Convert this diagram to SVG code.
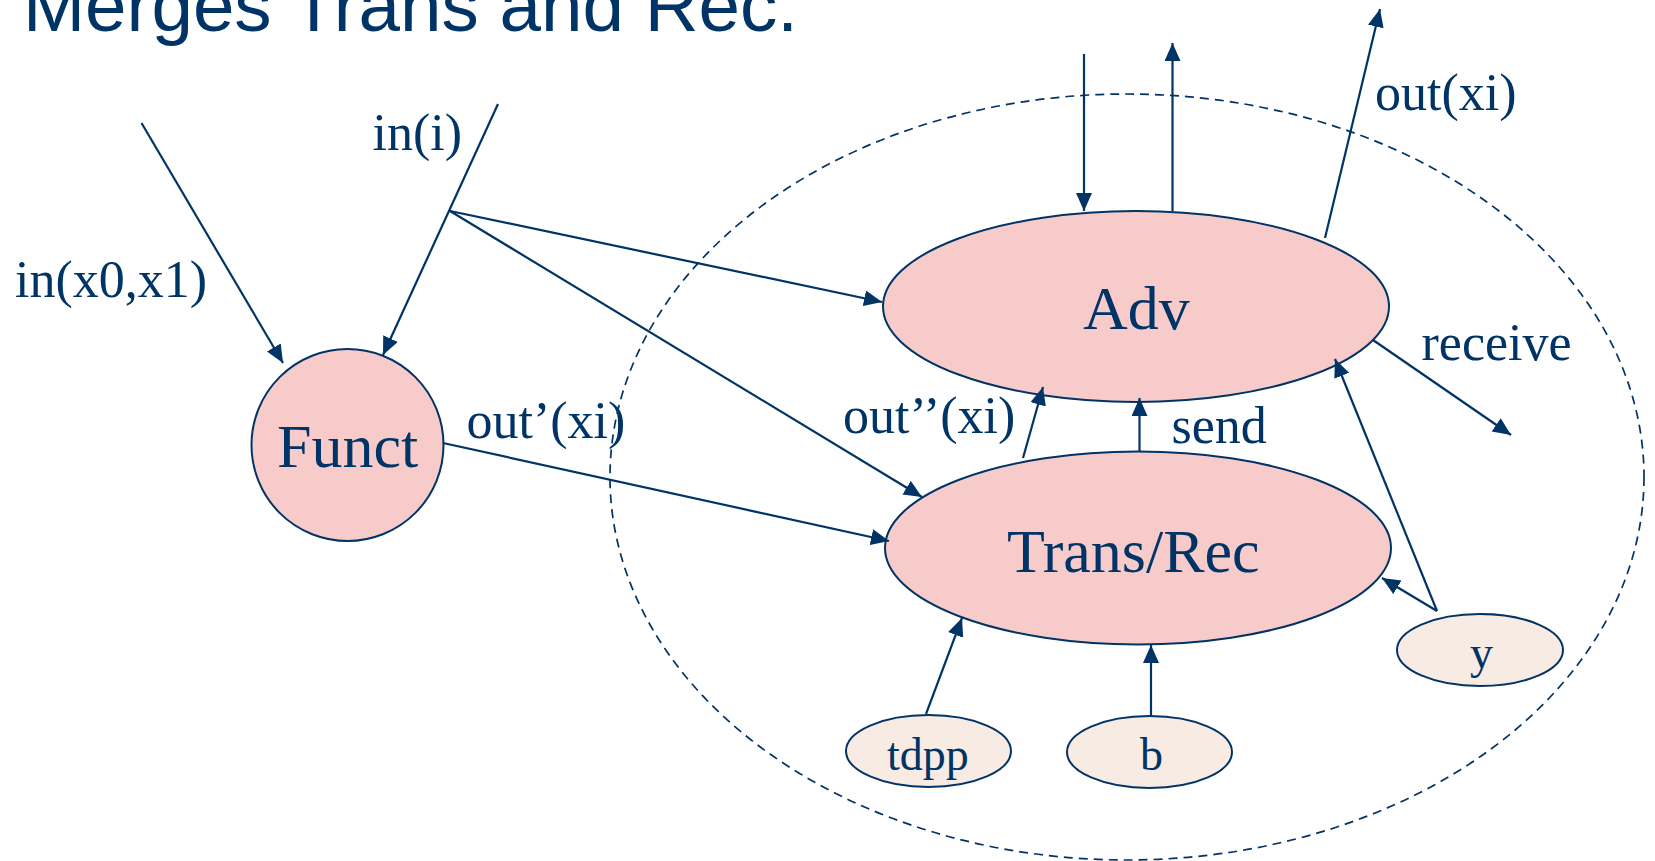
<svg xmlns="http://www.w3.org/2000/svg" width="1655" height="861" viewBox="0 0 1655 861">
<style>
.t{font-family:"Liberation Serif","Times New Roman",serif;fill:#003366}
.lbl{font-size:52px}
.big{font-size:62px}
.sm{font-size:46px}
.title{font-family:"Liberation Sans",Arial,sans-serif;font-size:74px;fill:#003366}
.node{fill:#f8cbcb;stroke:#003366;stroke-width:2}
.var{fill:#f7ebe3;stroke:#003366;stroke-width:2}
.c{stroke:#003366;stroke-width:2.2;fill:none;marker-end:url(#ah)}
.dash{fill:none;stroke:#003366;stroke-width:1.7;stroke-dasharray:9 6}
</style>
<defs>
<marker id="ah" markerUnits="userSpaceOnUse" markerWidth="19" markerHeight="17" refX="18" refY="8" orient="auto">
<path d="M0,0 L18,8 L0,16 z" fill="#003366"/>
</marker>
</defs>
<rect width="1655" height="861" fill="#ffffff"/>
<text class="title" x="23" y="31" textLength="775" lengthAdjust="spacingAndGlyphs">Merges Trans and Rec.</text>
<ellipse id="boundary" class="dash" cx="1127" cy="477" rx="517" ry="383"/>
<g id="funct"><circle class="node" cx="347.5" cy="445" r="96"/><text class="t big" x="277" y="467">Funct</text></g>
<g id="adv"><ellipse class="node" cx="1136" cy="306.5" rx="253" ry="95.5"/><text class="t big" x="1083" y="329">Adv</text></g>
<g id="transrec"><ellipse class="node" cx="1138" cy="548" rx="253" ry="96.5"/><text class="t big" x="1007" y="572">Trans/Rec</text></g>
<g id="tdpp"><ellipse class="var" cx="928.5" cy="751" rx="82.5" ry="36"/><text class="t sm" x="887" y="770">tdpp</text></g>
<g id="b"><ellipse class="var" cx="1149.5" cy="752" rx="82.5" ry="36"/><text class="t sm" x="1140" y="770">b</text></g>
<g id="y"><ellipse class="var" cx="1480" cy="650" rx="83" ry="36"/><text class="t sm" x="1470" y="668">y</text></g>
<g id="connectors">
<line class="c" x1="141.5" y1="123" x2="283" y2="363"/>
<line class="c" x1="498" y1="104" x2="383" y2="355"/>
<line class="c" x1="450" y1="211" x2="882" y2="302"/>
<line class="c" x1="450" y1="211" x2="922" y2="497"/>
<line class="c" x1="443" y1="443" x2="889" y2="541"/>
<line class="c" x1="1023" y1="458" x2="1043" y2="387"/>
<line class="c" x1="1139.5" y1="451" x2="1139.5" y2="398"/>
<line class="c" x1="1437" y1="611" x2="1382" y2="578"/>
<line class="c" x1="1437" y1="611" x2="1335" y2="359"/>
<line class="c" x1="1373" y1="340" x2="1511" y2="435"/>
<line class="c" x1="1084" y1="54" x2="1084" y2="211"/>
<line class="c" x1="1172.5" y1="211" x2="1172.5" y2="43"/>
<line class="c" x1="1325" y1="238" x2="1380" y2="9"/>
<line class="c" x1="926" y1="714" x2="962" y2="618"/>
<line class="c" x1="1151" y1="716" x2="1151" y2="645"/>
</g>
<g id="labels">
<text class="t lbl" x="15" y="297">in(x0,x1)</text>
<text class="t lbl" x="372.5" y="150">in(i)</text>
<text class="t lbl" x="466.5" y="438">out’(xi)</text>
<text class="t lbl" x="843" y="433">out’’(xi)</text>
<text class="t lbl" x="1171.5" y="443">send</text>
<text class="t lbl" x="1421.5" y="360">receive</text>
<text class="t lbl" x="1375" y="110">out(xi)</text>
</g>
</svg>
